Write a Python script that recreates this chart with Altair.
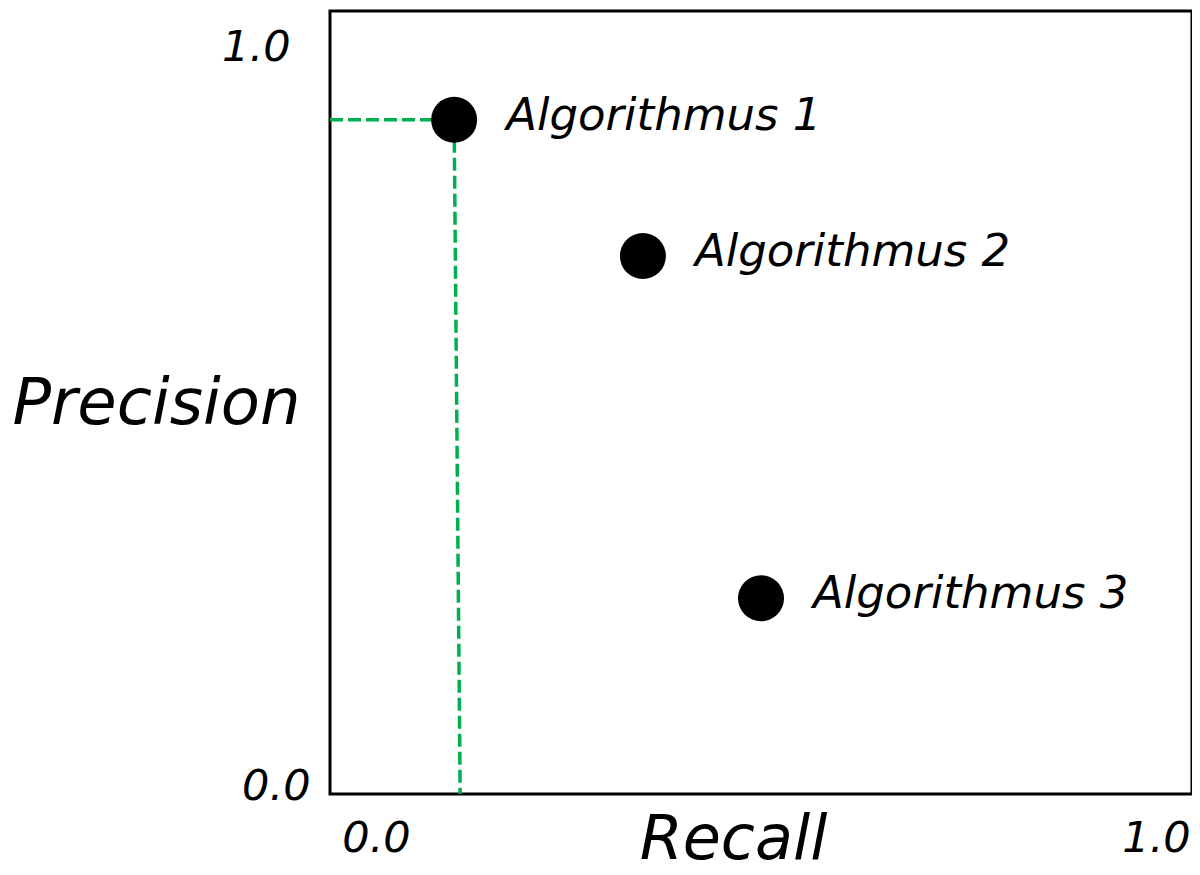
import altair as alt
import pandas as pd

algorithms = ["Algorithmus 1", "Algorithmus 2", "Algorithmus 3"]
recall = [0.144, 0.363, 0.500]
precision = [0.861, 0.687, 0.250]

# green dashed guide from the y axis to Algorithmus 1 and down to the x axis
guide_recall = [0.0, 0.144, 0.151]
guide_precision = [0.861, 0.861, 0.0]
guide_order = [0, 1, 2]

tick_values = [0.0, 1.0]

FONT = "DejaVu Sans"

pts = pd.DataFrame({"alg": algorithms, "recall": recall, "precision": precision})
guide = pd.DataFrame({"recall": guide_recall, "precision": guide_precision, "o": guide_order})

xscale = alt.Scale(domain=[0, 1], nice=False, zero=False)
yscale = alt.Scale(domain=[0, 1], nice=False, zero=False)

xaxis = alt.Axis(
    values=tick_values, format=".1f", title="Recall", grid=False, ticks=False, domain=False,
    labelFlush=False, labelAlign="center", labelBaseline="alphabetic",
    labelOffset=alt.expr("datum.value < 0.5 ? 46 : -36"),
    labelPadding=57, labelFontSize=43,
    labelFont=FONT, labelFontStyle="italic", labelColor="black",
    titleFont=FONT, titleFontStyle="italic", titleFontWeight="normal", titleFontSize=62,
    titleColor="black", titleX=403, titleY=64, titleBaseline="alphabetic", titleAlign="center",
)
yaxis = alt.Axis(
    values=tick_values, format=".1f", title="Precision", grid=False, ticks=False, domain=False,
    labelFlush=False, labelAlign="right", labelBaseline="alphabetic",
    labelOffset=alt.expr("datum.value > 0.5 ? 49 : 5"),
    labelPadding=alt.expr("datum.value > 0.5 ? 40 : 20"),
    labelFontSize=43,
    labelFont=FONT, labelFontStyle="italic", labelColor="black",
    titleFont=FONT, titleFontStyle="italic", titleFontWeight="normal", titleFontSize=64,
    titleColor="black", titleAngle=0, titleX=-30, titleY=412, titleAlign="right",
    titleBaseline="alphabetic",
)

base = alt.Chart(pts)

line = alt.Chart(guide).mark_line(
    color="#00b050", strokeWidth=3.5, strokeDash=[13, 5]
).encode(
    x=alt.X("recall:Q", scale=xscale, axis=xaxis),
    y=alt.Y("precision:Q", scale=yscale, axis=yaxis),
    order="o:Q",
)

points = base.mark_circle(color="black", opacity=1, size=2120).encode(
    x=alt.X("recall:Q", scale=xscale),
    y=alt.Y("precision:Q", scale=yscale),
)

labels = base.mark_text(
    align="left", baseline="alphabetic", dx=52, dy=10, fontSize=45,
    font=FONT, fontStyle="italic", color="black",
).encode(
    x=alt.X("recall:Q", scale=xscale),
    y=alt.Y("precision:Q", scale=yscale),
    text="alg:N",
)

chart = alt.layer(line, points, labels).properties(
    width=862, height=783,
    autosize="none",
    padding={"left": 322, "top": 3, "right": 0, "bottom": 69},
    background="white",
).configure_view(stroke="black", strokeWidth=3)

chart.save("out.html", embed_options={"renderer": "svg", "actions": False})
